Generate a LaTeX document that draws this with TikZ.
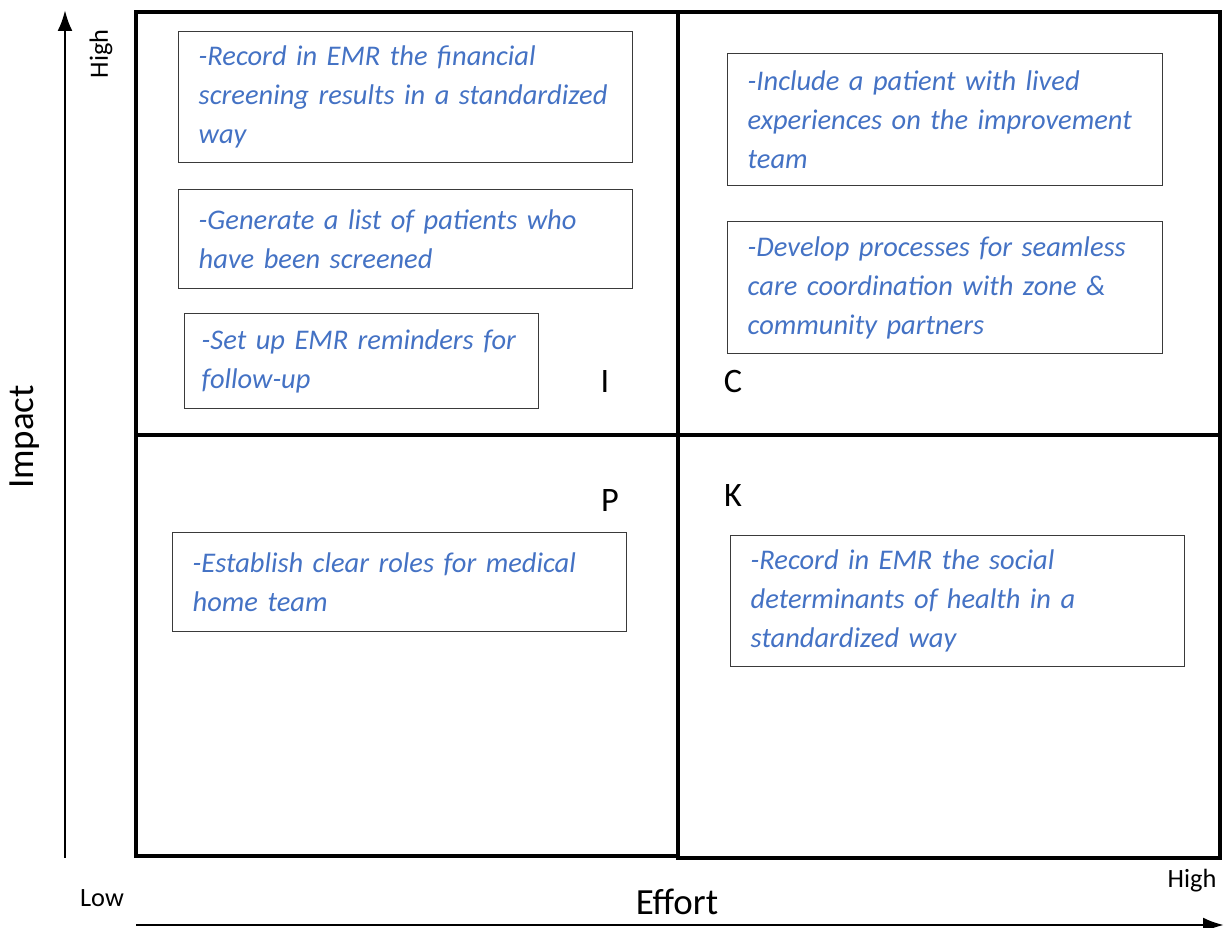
\documentclass[tikz,border=0pt]{standalone}
\usepackage{fontspec}
\setmainfont{Carlito}
\usepackage{xcolor}
\usepackage{tikz}
\usetikzlibrary{positioning,arrows.meta}
\definecolor{ideablue}{HTML}{4472C4}
\definecolor{boxgrey}{HTML}{3A3A3A}

\tikzset{
  quad/.style={draw=black,line width=1.9pt},
  idea/.style={draw=boxgrey,line width=0.85pt,anchor=north west,align=left,
    inner xsep=0.4cm,inner ysep=0pt,text=ideablue,
    font=\fontsize{16.2}{22.2}\selectfont\itshape},
  letter/.style={font=\fontsize{19.5}{22}\selectfont},
  axisarrow/.style={line width=1.6pt,-{Latex[length=0.42cm,width=0.3cm]}},
}

\begin{document}
\begin{tikzpicture}[x=0.02cm,y=-0.02cm]
\useasboundingbox (0,0) rectangle (1225,928);

% quadrants
\draw[quad] (136,12) rectangle (678,435);
\draw[quad] (678,12) rectangle (1220,435);
\draw[quad] (136,435) rectangle (678,856);
\draw[quad] (678,435) rectangle (1220,858);

% axes
\coordinate (impbase) at (65,858);
\coordinate (imptop) at (65,10);
\coordinate (effbase) at (136,925);
\coordinate (efftop) at (1224,925);
\draw[axisarrow] (impbase) -- (imptop);
\draw[axisarrow] (effbase) -- (efftop);

\node[rotate=90,font=\fontsize{21}{24}\selectfont] (impact) at (25,437) {Impact};
\node[font=\fontsize{21}{24}\selectfont] (effort) at (677,902) {Effort};
\node[rotate=90,font=\fontsize{15}{18}\selectfont] (highy) at (101,54) {High};
\node[font=\fontsize{15}{18}\selectfont] (lowx) at (102,898) {Low};
\node[font=\fontsize{15}{18}\selectfont] (highx) at (1192,881) {High};

% quadrant letters
\node[letter] (li) at (605,382) {I};
\node[letter] (lc) at (733,382) {C};
\node[letter] (lp) at (610,501) {P};
\node[letter] (lk) at (733,496) {K};

% ideas
\node[idea,text width=414*0.02cm,minimum height=131*0.02cm] (rec) at (178,31)
  {-Record in EMR the financial\\screening results in a standardized\\way};
\node[idea,text width=414*0.02cm,minimum height=99*0.02cm] (list) at (178,189)
  {-Generate a list of patients who\\have been screened};
\node[idea,inner xsep=0.34cm,text width=320*0.02cm,minimum height=95*0.02cm] (remind) at (184,313)
  {-Set up EMR reminders for\\follow-up};
\node[idea,text width=395*0.02cm,minimum height=132*0.02cm] (patient) at (727,53)
  {-Include a patient with lived\\experiences on the improvement\\team};
\node[idea,text width=395*0.02cm,minimum height=132*0.02cm] (coord) at (727,221)
  {-Develop processes for seamless\\care coordination with zone \&\\community partners};
\node[idea,text width=414*0.02cm,minimum height=99*0.02cm] (roles) at (172,532)
  {-Establish clear roles for medical\\home team};
\node[idea,text width=414*0.02cm,minimum height=131*0.02cm] (sdoh) at (730,535)
  {-Record in EMR the social\\determinants of health in a\\standardized way};
\end{tikzpicture}
\end{document}
